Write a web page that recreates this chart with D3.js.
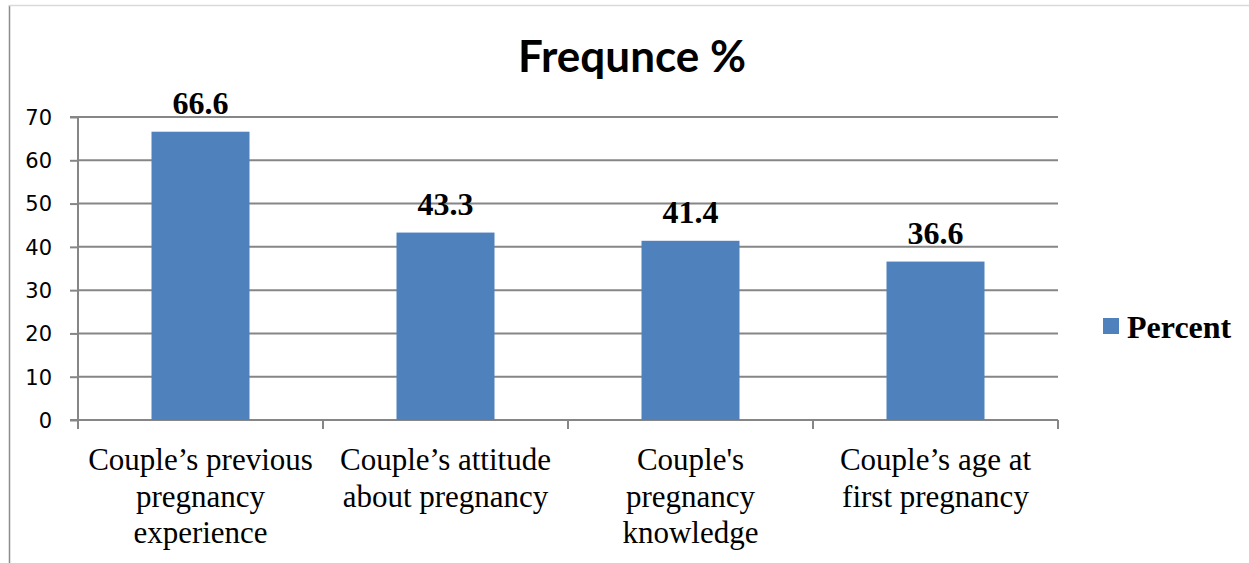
<!DOCTYPE html>
<html><head><meta charset="utf-8">
<script src="https://cdn.jsdelivr.net/npm/d3@7"></script>
<style>body{margin:0;background:#fff}svg{display:block}</style>
</head><body>
<svg id="c" width="1249" height="563"></svg>
<script>
const categories = [
  ["Couple\u2019s previous","pregnancy","experience"],
  ["Couple\u2019s attitude","about pregnancy"],
  ["Couple's","pregnancy","knowledge"],
  ["Couple\u2019s age at","first pregnancy"]
];
const values = [66.6, 43.3, 41.4, 36.6];
const yTicks = [0,10,20,30,40,50,60,70];
const seriesName = "Percent";
const title = "Frequnce %";

const svg = d3.select("#c");
const m = {l:78, r:1058, t:117, b:420};
const x = d3.scaleBand().domain(d3.range(values.length)).range([m.l, m.r]).paddingInner(0.6).paddingOuter(0.3);
const y = d3.scaleLinear().domain([0,70]).range([m.b, m.t]);
const grid = "#868686";

// border
svg.append("line").attr("x1",9.5).attr("x2",9.5).attr("y1",5).attr("y2",563).attr("stroke","#8c8c8c").attr("stroke-width",1.5);
svg.append("line").attr("x1",9).attr("x2",1249).attr("y1",5.5).attr("y2",5.5).attr("stroke","#d9d9d9").attr("stroke-width",1.5);

// title
svg.append("text").attr("x",632).attr("y",72).attr("text-anchor","middle")
  .attr("font-family","Lato, 'Open Sans', sans-serif").attr("font-weight","bold").attr("font-size",44).text(title);

// gridlines
svg.append("g").selectAll("line").data(yTicks.slice(1)).join("line")
  .attr("x1",m.l).attr("x2",m.r).attr("y1",d=>y(d)).attr("y2",d=>y(d)).attr("stroke",grid).attr("stroke-width",2);

// y axis
const ya = svg.append("g").attr("transform",`translate(${m.l},0)`)
  .call(d3.axisLeft(y).tickValues(yTicks).tickSize(8).tickPadding(18));
ya.select(".domain").attr("stroke",grid).attr("stroke-width",2).attr("d",`M-8,${y(70)}H0V${m.b}H-8`);
ya.selectAll(".tick line").attr("stroke",grid).attr("stroke-width",2);
ya.selectAll(".tick text").attr("font-family","'DejaVu Sans', sans-serif").attr("font-size",21).attr("fill","#000").attr("dy","0.35em");

// x axis
const boundaries = d3.range(values.length+1).map(i => m.l + i*(m.r-m.l)/values.length);
svg.append("line").attr("x1",m.l).attr("x2",m.r).attr("y1",m.b).attr("y2",m.b).attr("stroke",grid).attr("stroke-width",2);
svg.append("g").selectAll("line").data(boundaries).join("line")
  .attr("x1",d=>d).attr("x2",d=>d).attr("y1",m.b).attr("y2",m.b+9).attr("stroke",grid).attr("stroke-width",2);

// bars
svg.append("g").selectAll("rect").data(values).join("rect")
  .attr("x",(d,i)=>x(i)).attr("width",x.bandwidth()).attr("y",d=>y(d)).attr("height",d=>m.b-y(d)).attr("fill","#4F81BD");

// value labels
svg.append("g").selectAll("text").data(values).join("text")
  .attr("x",(d,i)=>x(i)+x.bandwidth()/2).attr("y",d=>y(d)-18).attr("text-anchor","middle")
  .attr("font-family","'Liberation Serif', serif").attr("font-weight","bold").attr("font-size",32).text(d=>d.toFixed(1));

// category labels
const cg = svg.append("g").selectAll("text").data(categories).join("text")
  .attr("text-anchor","middle").attr("font-family","'Liberation Serif', serif").attr("font-size",31).attr("fill","#000");
cg.each(function(lines,i){
  const t = d3.select(this);
  lines.forEach((l,j)=>{
    t.append("tspan").attr("x",x(i)+x.bandwidth()/2).attr("y",470+j*36.5).text(l);
  });
});

// legend
svg.append("rect").attr("x",1103).attr("y",318).attr("width",16).attr("height",16).attr("fill","#4F81BD");
svg.append("text").attr("x",1127).attr("y",338).attr("font-family","'Liberation Serif', serif").attr("font-weight","bold").attr("font-size",32).text(seriesName);
</script>
</body></html>
